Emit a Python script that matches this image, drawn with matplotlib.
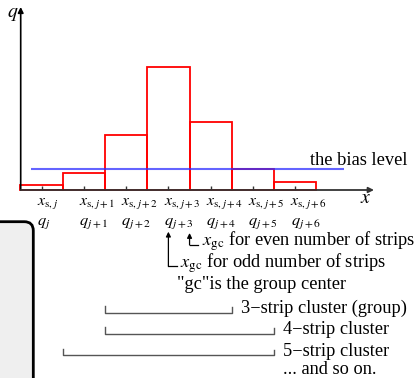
import matplotlib
matplotlib.use("Agg")
import matplotlib.pyplot as plt
import matplotlib.transforms as mtransforms
from matplotlib.patches import FancyBboxPatch
import numpy as np

# strip charges (arbitrary units) around a cluster
strips = ['j', 'j+1', 'j+2', 'j+3', 'j+4', 'j+5', 'j+6']
charge = [4.7, 17.3, 55.3, 123.0, 68.0, 21.5, 8.3]
bias = 21.3

# clusters: (first strip, last strip, label)
clusters = [(2, 4, '3\u2212strip cluster (group)'),
            (2, 5, '4\u2212strip cluster'),
            (1, 5, '5\u2212strip cluster')]

plt.rcParams['font.family'] = ['Liberation Serif', 'DejaVu Serif']
plt.rcParams['mathtext.fontset'] = 'stix'
fs = 13.2
fs_lab = 11.3

W, H = 415, 378
x0, dx, y0 = 41.5, 42.3, 190.0   # pixel of strip 0, strip pitch, pixel of q=0


def X(px):
    return (px - x0) / dx


def Y(py):
    return y0 - py


fig = plt.figure(figsize=(W / 100, H / 100), dpi=100)
ax = fig.add_axes([0, 0, 1, 1])
ax.set_xlim(X(0), X(W))
ax.set_ylim(Y(H), Y(0))
ax.axis('off')

idx = np.arange(len(strips))

# grey box at lower left
box = FancyBboxPatch((-30, -30), 63.3, H - 221.7 + 30,
                     boxstyle='round,pad=0,rounding_size=9',
                     transform=mtransforms.IdentityTransform(),
                     facecolor='#efefef', edgecolor='black', lw=2, clip_on=False)
fig.patches.append(box)

# strip charges
ax.bar(idx, charge, width=1, fill=False, edgecolor='red', lw=1.3, zorder=2)
ax.hlines(bias, X(31), X(344.3), color='#3030ff', lw=1.5, alpha=0.75, zorder=3)
ax.text(X(408), Y(165), 'the bias level', ha='right', va='baseline', fontsize=fs)

# axes with arrows
ax.annotate('', xy=(X(20.7), Y(7)), xytext=(X(20.7), 0),
            arrowprops=dict(arrowstyle='-|>', color='black', lw=1.2,
                            mutation_scale=8, shrinkA=0, shrinkB=0))
ax.annotate('', xy=(X(374), 0), xytext=(X(20.7), 0),
            arrowprops=dict(arrowstyle='-|>', color='#333333', lw=1.3,
                            mutation_scale=8, shrinkA=0, shrinkB=0), zorder=4)
ax.vlines(idx, 0, 4.5, color='#333333', lw=1, zorder=4)
ax.text(X(12.5), Y(17), '$q$', ha='center', va='baseline', fontsize=fs + 1)
ax.text(X(366), Y(203), '$x$', ha='center', va='baseline', fontsize=fs + 1)

# strip labels
for i, s in zip(idx, strips):
    ax.text(i - 0.115, Y(205), r'$x_{\mathrm{s},%s}$' % s, ha='left',
            va='baseline', fontsize=fs_lab)
    ax.text(i - 0.11, Y(225), r'$q_{%s}$' % s, ha='left',
            va='baseline', fontsize=fs_lab + 0.5)

# group center arrows
arr = dict(arrowstyle='-|>', color='black', lw=0.9, mutation_scale=7,
           shrinkA=0, shrinkB=0)
ax.annotate('', xy=(3.5, Y(233)), xytext=(3.5, Y(245)), arrowprops=arr)
ax.plot([3.5, X(198)], [Y(245), Y(245)], color='black', lw=0.9)
ax.annotate('', xy=(3, Y(231.7)), xytext=(3, Y(266)), arrowprops=arr)
ax.plot([3, X(176.7)], [Y(266), Y(266)], color='black', lw=0.9)
ax.text(X(201.5), Y(246), r'$x_{\mathrm{gc}}$ for even number of strips',
        ha='left', va='baseline', fontsize=fs)
ax.text(X(180.5), Y(268), r'$x_{\mathrm{gc}}$ for odd number of strips',
        ha='left', va='baseline', fontsize=fs)
ax.text(X(177), Y(289), '"gc"is the group center', ha='left',
        va='baseline', fontsize=fs)

# cluster brackets
line_y = [312.7, 333.5, 355]
for (a, b, lab), ly in zip(clusters, line_y):
    xl, xr = a - 0.5, b + 0.5
    ax.plot([xl, xl, xr, xr], [Y(ly - 6.5), Y(ly), Y(ly), Y(ly - 5.5)],
            color='#555555', lw=1)
    ax.text(xr + 0.22, Y(ly + 0.5), lab, ha='left', va='baseline', fontsize=fs)
ax.text(5.5 + 0.22, Y(374.5), '... and so on.', ha='left', va='baseline',
        fontsize=fs)

fig.savefig('out.png', dpi=100)
